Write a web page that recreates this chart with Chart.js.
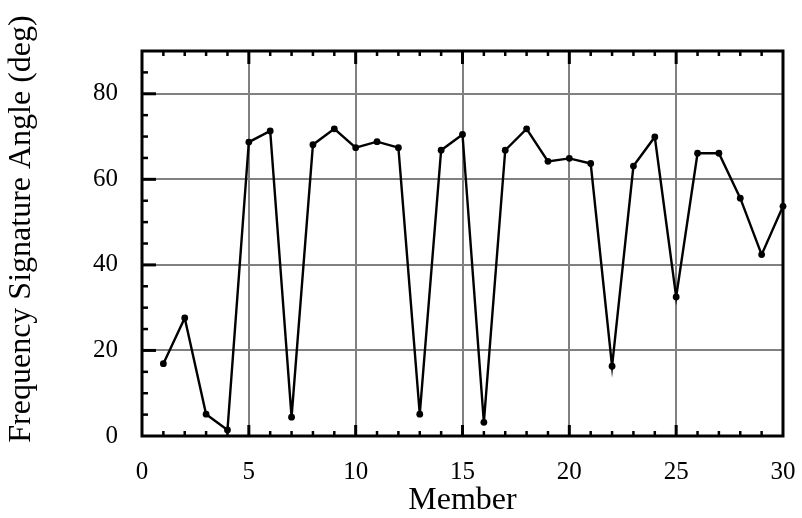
<!DOCTYPE html>
<html>
<head>
<meta charset="utf-8">
<script src="https://cdn.jsdelivr.net/npm/chart.js@4/dist/chart.umd.min.js"></script>
<style>
  html, body { margin: 0; padding: 0; background: #ffffff; }
  #wrap { width: 802px; height: 518px; position: relative; }
</style>
</head>
<body>
<div id="wrap"><canvas id="c" width="802" height="518"></canvas></div>
<script>
// ---- data ----
const members = [1,2,3,4,5,6,7,8,9,10,11,12,13,14,15,16,17,18,19,20,21,22,23,24,25,26,27,28,29,30];
const angles  = [16.9,27.6,5.1,1.4,68.7,71.3,4.4,68.1,71.8,67.4,68.8,67.4,5.1,66.8,70.5,3.2,66.8,71.8,64.2,64.9,63.7,16.3,63.1,69.9,32.5,66.1,66.1,55.6,42.4,53.7];
const xTickValues = [0,5,10,15,20,25,30];
const yTickValues = [0,20,40,60,80];
const xTitle = 'Member';
const yTitle = 'Frequency Signature Angle (deg)';

const points = members.map((m, i) => ({ x: m, y: angles[i] }));
const FONT = "'Liberation Serif', 'Times New Roman', serif";

const framePlugin = {
  id: 'frameTicks',
  afterDraw(chart) {
    const ctx = chart.ctx;
    const xs = chart.scales.x, ys = chart.scales.y;
    const a = chart.chartArea;
    ctx.save();
    ctx.strokeStyle = '#000';
    ctx.lineCap = 'butt';
    // left axis ticks (inward)
    for (let v = ys.min; v <= ys.max; v += 5) {
      if (v === ys.min || v === ys.max) continue;
      const y = ys.getPixelForValue(v);
      const major = v % 20 === 0;
      ctx.lineWidth = major ? 3 : 2.5;
      ctx.beginPath();
      ctx.moveTo(a.left, y);
      ctx.lineTo(a.left + (major ? 14 : 6), y);
      ctx.stroke();
    }
    // top & bottom axis ticks (inward)
    for (let v = xs.min; v <= xs.max; v += 1) {
      if (v === xs.min || v === xs.max) continue;
      const x = xs.getPixelForValue(v);
      const major = v % 5 === 0;
      ctx.lineWidth = major ? 3 : 2.5;
      ctx.beginPath();
      ctx.moveTo(x, a.top);
      ctx.lineTo(x, a.top + (major ? 13 : 5));
      ctx.moveTo(x, a.bottom);
      ctx.lineTo(x, a.bottom - (major ? 11 : 5));
      ctx.stroke();
    }
    // frame
    ctx.lineWidth = 3;
    ctx.strokeRect(a.left, a.top, a.right - a.left, a.bottom - a.top);
    // y title
    ctx.fillStyle = '#000';
    ctx.font = "32px " + FONT;
    ctx.textAlign = 'center';
    ctx.textBaseline = 'middle';
    ctx.translate(22, 229);
    ctx.rotate(-Math.PI / 2);
    ctx.fillText(yTitle, 0, 0);
    ctx.restore();
  }
};

new Chart(document.getElementById('c'), {
  type: 'scatter',
  data: {
    datasets: [{
      data: points,
      showLine: true,
      borderColor: '#000',
      backgroundColor: '#000',
      borderWidth: 2.4,
      pointRadius: 3.4,
      pointHoverRadius: 3.4,
      pointBorderWidth: 0,
      tension: 0,
      clip: false
    }]
  },
  options: {
    responsive: false,
    animation: false,
    events: [],
    layout: { padding: { top: 51, right: 19, left: 0, bottom: 0 } },
    plugins: { legend: { display: false }, tooltip: { enabled: false } },
    scales: {
      x: {
        type: 'linear',
        min: 0, max: 30,
        afterBuildTicks(scale) { scale.ticks = xTickValues.map(v => ({ value: v })); },
        afterFit(scale) { scale.height = 82; scale.paddingLeft = 0; scale.paddingRight = 0; },
        border: { display: false },
        grid: {
          drawTicks: false,
          lineWidth: 2,
          color: ctx => (ctx.tick && (ctx.tick.value === 0 || ctx.tick.value === 30)) ? 'rgba(0,0,0,0)' : '#808080'
        },
        ticks: {
          padding: 21,
          color: '#000',
          maxRotation: 0,
          font: { family: FONT, size: 25 }
        },
        title: {
          display: true,
          text: xTitle,
          color: '#000',
          font: { family: FONT, size: 32, lineHeight: 1 },
          padding: { top: 0, bottom: 1 }
        }
      },
      y: {
        type: 'linear',
        min: 0, max: 90,
        afterBuildTicks(scale) { scale.ticks = yTickValues.map(v => ({ value: v })); },
        afterFit(scale) { scale.width = 142; scale.paddingTop = 0; scale.paddingBottom = 0; },
        border: { display: false },
        grid: {
          drawTicks: false,
          lineWidth: 2,
          color: ctx => (ctx.tick && ctx.tick.value === 0) ? 'rgba(0,0,0,0)' : '#808080'
        },
        ticks: {
          padding: 24,
          color: '#000',
          font: { family: FONT, size: 25 }
        },
        title: { display: false }
      }
    }
  },
  plugins: [framePlugin]
});
</script>
</body>
</html>
